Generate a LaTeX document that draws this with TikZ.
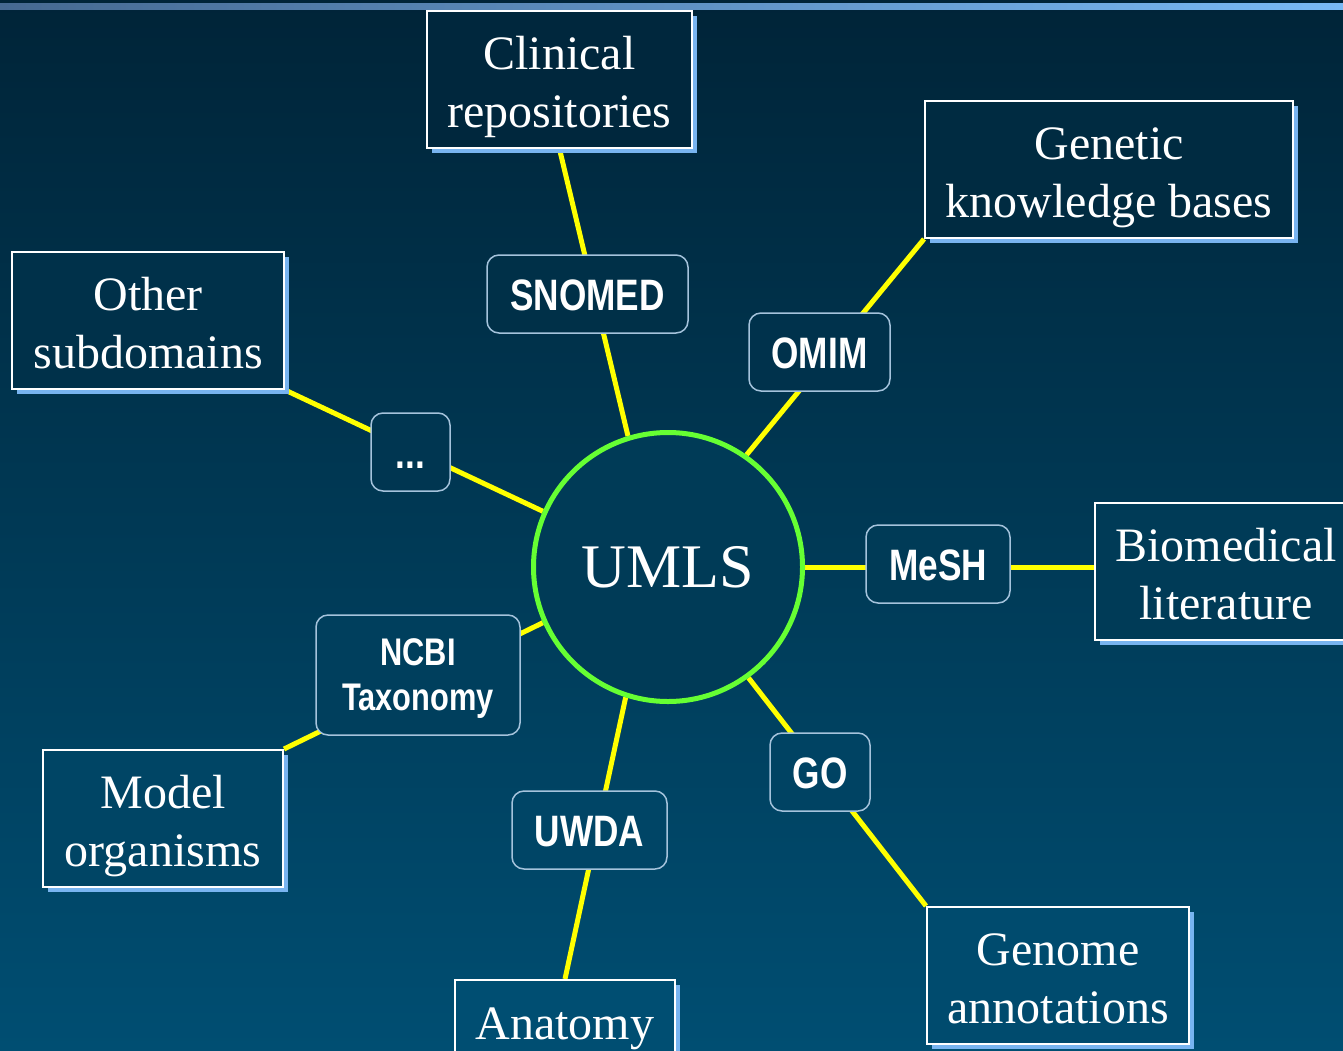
\documentclass[tikz,border=0pt]{standalone}
\usepackage{fontspec}
\setmainfont{Liberation Serif}
\newfontfamily\nb{Liberation Sans}[FakeStretch=0.8]
\usetikzlibrary{shadows}
\definecolor{bgT}{RGB}{0,36,56}
\definecolor{bgB}{RGB}{0,78,114}
\definecolor{shadowblue}{RGB}{120,180,240}
\definecolor{edgegrey}{RGB}{165,195,220}
\definecolor{linkyellow}{RGB}{255,255,0}
\definecolor{ringgreen}{RGB}{102,255,51}
\definecolor{barL}{RGB}{70,105,145}
\definecolor{barR}{RGB}{120,185,245}
\pgfdeclarelayer{bgl}
\pgfdeclarelayer{links}
\pgfsetlayers{bgl,links,main}
\begin{document}
\begin{tikzpicture}[x=1pt,y=-1pt,
 srcbox/.style={draw=white, line width=2pt, fill=bgB!#1!bgT, text=white, inner sep=0pt,
   align=center, font=\fontsize{48}{57.5}\selectfont, text height=100pt, text depth=5pt,
   minimum height=137pt,
   drop shadow={shadow xshift=5pt, shadow yshift=-5pt, fill=shadowblue, opacity=1}},
 vocbox/.style={draw=edgegrey, line width=1.5pt, rounded corners=12pt, fill=bgB!#1!bgT,
   text=white, inner sep=0pt, align=center, font=\nb\bfseries\fontsize{44}{50}\selectfont,
   text height=32pt, text depth=0pt, minimum height=78pt},
 link/.style={draw=linkyellow, line width=5pt}]
\useasboundingbox (0,0) rectangle (1343,1050);
\clip (0,0) rectangle (1343,1050);
\begin{pgfonlayer}{bgl}
\fill[top color=bgT, bottom color=bgB] (0,0) rectangle (1343,1050);
\fill[left color=barL, right color=barR] (0,3) rectangle (1343,9);
\end{pgfonlayer}

% central node
\node[circle, draw=ringgreen, line width=5pt, fill=bgB!54!bgT, minimum size=269pt,
  inner sep=0pt, text=white, font=\fontsize{62}{70}\selectfont] (umls) at (668,567) {UMLS};

% source domains
\node[srcbox=8, minimum width=265pt] (clinical) at (559.5,79.5) {Clinical\\repositories};
\node[srcbox=16, minimum width=368pt] (genetic) at (1109,169.5) {Genetic\\knowledge bases};
\node[srcbox=31, minimum width=272pt] (other) at (148,320.5) {Other\\subdomains};
\node[srcbox=54, minimum width=262pt] (biomed) at (1226,571.5) {Biomedical\\literature};
\node[srcbox=78, minimum width=240pt] (model) at (163,818.5) {Model\\organisms};
\node[srcbox=93, minimum width=262pt] (genome) at (1058,975.5) {Genome\\annotations};
\node[srcbox=100, minimum width=220pt, text height=30pt, text depth=49pt] (anatomy) at (565,1048.5) {Anatomy};

% vocabularies
\node[vocbox=28, minimum width=201pt] (snomed) at (587.5,294) {SNOMED};
\node[vocbox=34, minimum width=141pt] (omim) at (819.5,352) {OMIM};
\node[vocbox=43, minimum width=79pt] (dots) at (410.5,452) {...};
\node[vocbox=54, minimum width=144pt] (mesh) at (938,564) {MeSH};
\node[vocbox=64, minimum width=204pt, minimum height=120pt, font=\nb\bfseries\fontsize{38.5}{45}\selectfont,
  text height=72pt, text depth=2pt] (ncbi) at (418,675) {NCBI\\Taxonomy};
\node[vocbox=74, minimum width=100pt] (go) at (820,772) {GO};
\node[vocbox=79, minimum width=155pt] (uwda) at (589.5,830) {UWDA};

% connectors: straight lines from UMLS to each domain, passing behind the vocabulary box
\begin{pgfonlayer}{links}
\draw[link] (umls.107.6) -- (clinical.south);
\draw[link] (umls.55.1) -- (genetic.south west);
\draw[link] (umls.156.2) -- (other.south east);
\draw[link] (umls.east) -- (umls.east -| biomed.west);
\draw[link] (umls.204.5) -- (model.north east);
\draw[link] (umls.-54.7) -- (genome.north west);
\draw[link] (umls.252.4) -- (anatomy.north);
\end{pgfonlayer}
\end{tikzpicture}
\end{document}
